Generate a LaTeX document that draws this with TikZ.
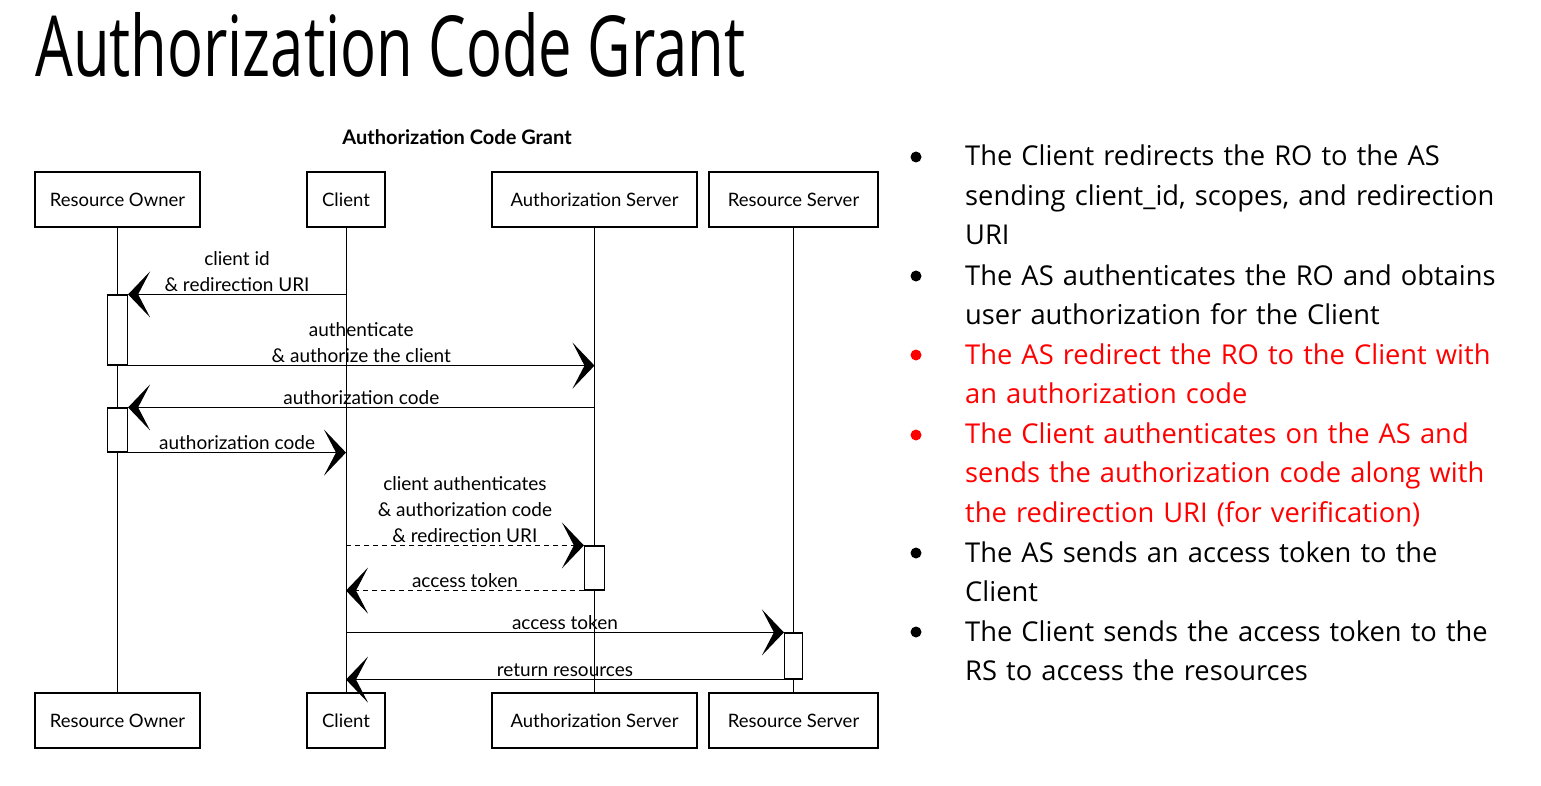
\documentclass[tikz,border=0pt]{standalone}
\usepackage{graphicx}
\usepackage{fontspec}
\setmainfont{Open Sans}
\newfontfamily\sketchfont{Lato}
\usetikzlibrary{arrows.meta}
\definecolor{notered}{RGB}{255,0,0}
\begin{document}
\begin{tikzpicture}[x=1pt, y=-1pt,
	box/.style={draw, line width=1.2pt, minimum height=55pt, inner sep=0pt, font=\sketchfont\fontsize{18.5}{22}\selectfont},
	act/.style={draw, fill=white, line width=1.2pt, minimum width=20pt, inner sep=0pt},
	msg/.style={line width=1.2pt, -{Stealth[length=22pt, width=46pt, inset=12pt]}},
	lbl/.style={font=\sketchfont\fontsize{19}{26}\selectfont, align=center, inner sep=2pt},
	item/.style={anchor=base west, text width=570pt, align=left, inner sep=0pt, font=\fontsize{27.3}{39.5}\selectfont}]
	\useasboundingbox (0,0) rectangle (1541,786);
	\node[anchor=base west, inner sep=0pt] (title) at (35,77) {\resizebox{710pt}{64pt}{Authorization Code Grant}};
	% bullet list
	\foreach \y/\c in {157/black, 276/black, 355/notered, 435/notered, 553/black, 632/black}
		\fill[\c] (916,\y) circle [radius=5.5pt];
	\node[item] (t1) at (965,166) {The Client redirects the RO to the AS\\sending client\_id, scopes, and redirection\\URI};
	\node[item] (t2) at (965,285) {The AS authenticates the RO and obtains\\user authorization for the Client};
	\node[item, text=notered] (t3) at (965,364) {The AS redirect the RO to the Client with\\an authorization code};
	\node[item, text=notered] (t4) at (965,443) {The Client authenticates on the AS and\\sends the authorization code along with\\the redirection URI (for verification)};
	\node[item] (t5) at (965,562) {The AS sends an access token to the\\Client};
	\node[item] (t6) at (965,641) {The Client sends the access token to the\\RS to access the resources};
	% sequence diagram
	\node[font=\sketchfont\bfseries\fontsize{20}{24}\selectfont] (sub) at (457,137) {Authorization Code Grant};
	\node[box, minimum width=165pt] (owner) at (117.5,199.5) {Resource Owner};
	\node[box, minimum width=78pt] (client) at (346,199.5) {Client};
	\node[box, minimum width=205pt] (authsrv) at (594.5,199.5) {Authorization Server};
	\node[box, minimum width=169pt] (ressrv) at (793.5,199.5) {Resource Server};
	\node[box, minimum width=165pt] (owner2) at (117.5,720.5) {Resource Owner};
	\node[box, minimum width=78pt] (client2) at (346,720.5) {Client};
	\node[box, minimum width=205pt] (authsrv2) at (594.5,720.5) {Authorization Server};
	\node[box, minimum width=169pt] (ressrv2) at (793.5,720.5) {Resource Server};
	\draw[line width=1pt] (owner) -- (owner2);
	\draw[line width=1pt] (client) -- (client2);
	\draw[line width=1pt] (authsrv) -- (authsrv2);
	\draw[line width=1pt] (ressrv) -- (ressrv2);
	\node[act, minimum height=70pt] (a1) at (117.5,330) {};
	\node[act, minimum height=44pt] (a2) at (117.5,430) {};
	\node[act, minimum height=44pt] (a3) at (594.5,568) {};
	\node[act, minimum height=46pt, minimum width=18pt] (a4) at (793.5,656) {};
	\draw[msg] (a1.north east -| client) -- (a1.north east) node[lbl, midway, above] {client id\\\& redirection URI};
	\draw[msg] (a1.south east) -- (a1.south east -| authsrv) node[lbl, midway, above] {authenticate\\\& authorize the client};
	\draw[msg] (a2.north east -| authsrv) -- (a2.north east) node[lbl, midway, above] {authorization code};
	\draw[msg] (a2.south east) -- (a2.south east -| client) node[lbl, midway, above] {authorization code};
	\draw[msg, dash pattern=on 5pt off 4pt] (a3.north west -| client) -- (a3.north west) node[lbl, midway, above] {client authenticates\\\& authorization code\\\& redirection URI};
	\draw[msg, dash pattern=on 5pt off 4pt] (a3.south west) -- (a3.south west -| client) node[lbl, midway, above] {access token};
	\draw[msg] (a4.north west -| client) -- (a4.north west) node[lbl, midway, above] {access token};
	\draw[msg] (a4.south west) -- (a4.south west -| client) node[lbl, midway, above] {return resources};
\end{tikzpicture}
\end{document}
